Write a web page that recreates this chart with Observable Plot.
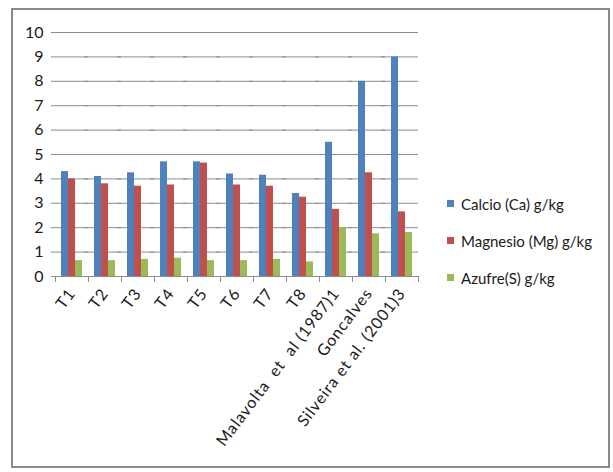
<!DOCTYPE html>
<html>
<head>
<meta charset="utf-8">
<script src="https://cdn.jsdelivr.net/npm/d3@7"></script>
<script src="https://cdn.jsdelivr.net/npm/@observablehq/plot@0.6"></script>
<style>
  body { margin: 0; background: #fff; }
  #wrap { position: relative; width: 613px; height: 472px; font-family: Lato, "Open Sans", sans-serif; }
  #border { position: absolute; left: 11px; top: 8px; width: 599px; height: 460px; border: 2px solid #8a8a8a; box-sizing: border-box; }
  #chart { position: absolute; left: 0; top: 0; }
  #legend { position: absolute; left: 447px; top: 185px; font-size: 15px; color: #1a1a1a; }
  .item { display: flex; align-items: center; height: 37px; }
  .sw { width: 7px; height: 7px; margin-right: 7px; }
  .fxlab text { white-space: pre; letter-spacing: 0.9px; }
</style>
</head>
<body>
<div id="wrap">
  <div id="border"></div>
  <div id="chart"></div>
  <div id="legend"></div>
</div>
<script>
const categories = ["T1","T2","T3","T4","T5","T6","T7","T8","Malavolta  et  al (1987)1","Goncalves","Silveira et al. (2001)3"];
const series = ["Calcio (Ca) g/kg","Magnesio (Mg) g/kg","Azufre(S) g/kg"];
const calcio   = [4.3, 4.1, 4.25, 4.7, 4.7, 4.2, 4.15, 3.4, 5.5, 8.0, 9.0];
const magnesio = [4.0, 3.8, 3.7, 3.75, 4.65, 3.75, 3.7, 3.25, 2.75, 4.25, 2.65];
const azufre   = [0.65, 0.65, 0.7, 0.75, 0.65, 0.65, 0.7, 0.6, 2.0, 1.75, 1.8];
const colors = ["#4F81BD", "#C0504D", "#9BBB59"];
const yTicks = [0,1,2,3,4,5,6,7,8,9,10];

const values = [calcio, magnesio, azufre];
const data = [];
categories.forEach((c, i) => series.forEach((s, j) => data.push({cat: c, series: s, value: values[j][i]})));

const chart = Plot.plot({
  width: 613,
  height: 472,
  marginLeft: 53,
  marginRight: 193,
  marginTop: 32,
  marginBottom: 196,
  style: {fontFamily: "Lato, 'Open Sans', sans-serif", background: "transparent", color: "#1a1a1a"},
  fx: {domain: categories, paddingInner: 0, paddingOuter: 0, label: null},
  x: {domain: series, paddingInner: 0, paddingOuter: 0.75, axis: null},
  y: {domain: [0, 10], ticks: yTicks, label: null},
  color: {domain: series, range: colors},
  marks: [
    Plot.gridY(yTicks, {stroke: "#8c8c8c", strokeOpacity: 1, strokeWidth: 1, insetLeft: -4}),
    Plot.axisY(yTicks, {tickSize: 0, tickPadding: 12, fontSize: 16, label: null}),
    Plot.axisFx({anchor: "bottom", tickSize: 0, tickPadding: 14, tickRotate: -53, fontSize: 16, label: null, className: "fxlab"}),
    Plot.barY(data, {fx: "cat", x: "series", y: "value", fill: "series"}),
    Plot.frame({anchor: "bottom", stroke: "#8c8c8c"}),
    Plot.frame({anchor: "left", stroke: "#8c8c8c", insetTop: 244, insetBottom: -5}),
    Plot.frame({anchor: "right", stroke: "#8c8c8c", insetTop: 244, insetBottom: -5})
  ]
});
document.getElementById("chart").appendChild(chart);

const legend = document.getElementById("legend");
series.forEach((s, i) => {
  const row = document.createElement("div");
  row.className = "item";
  const sw = document.createElement("div");
  sw.className = "sw";
  sw.style.background = colors[i];
  const label = document.createElement("span");
  label.textContent = s;
  row.appendChild(sw);
  row.appendChild(label);
  legend.appendChild(row);
});
</script>
</body>
</html>
